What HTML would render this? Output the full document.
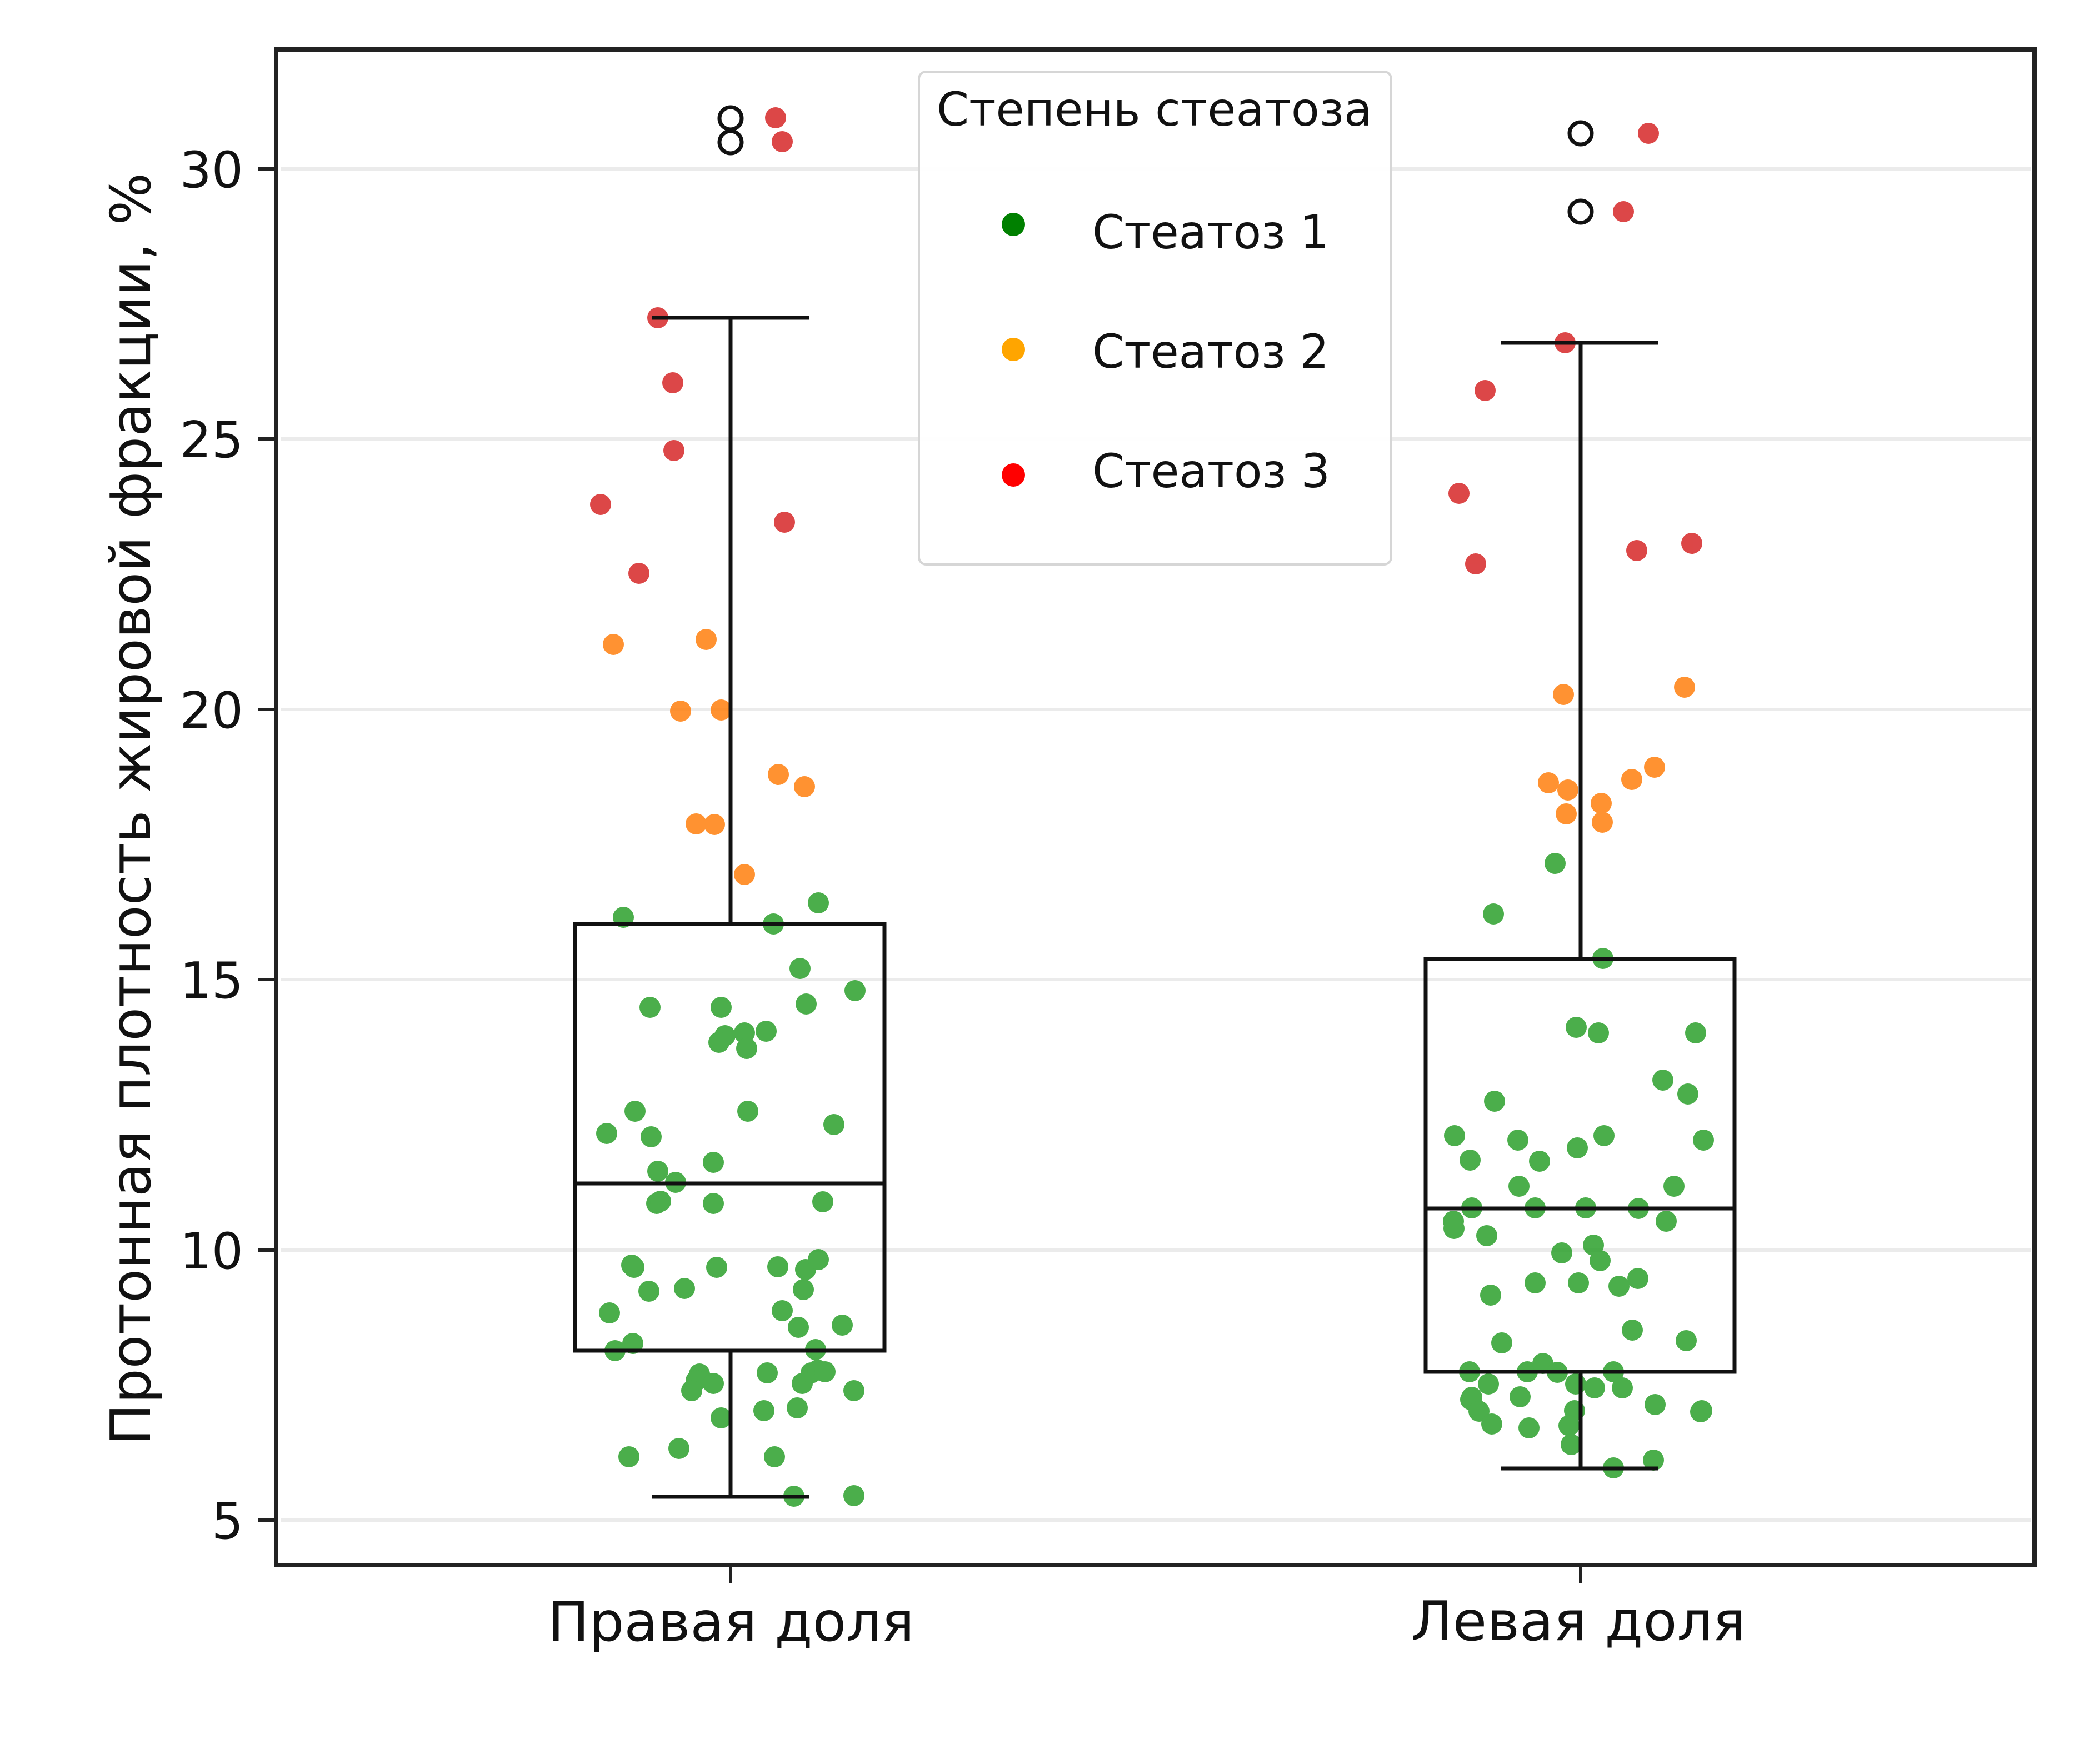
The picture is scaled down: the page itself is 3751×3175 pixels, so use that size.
<!DOCTYPE html>
<html><head><meta charset="utf-8"><style>
html,body{margin:0;padding:0;background:#fff;}
svg{display:block;}
text{font-family:"DejaVu Sans","Liberation Sans",sans-serif;fill:#111;}
</style></head><body>
<svg width="3751" height="3175" viewBox="0 0 3751 3175" xmlns="http://www.w3.org/2000/svg">
<rect width="3751" height="3175" fill="#fff"/>
<!-- gridlines -->
<g stroke="#ebebeb" stroke-width="6">
<line x1="505" y1="304" x2="3655" y2="304"/>
<line x1="505" y1="790" x2="3655" y2="790"/>
<line x1="505" y1="1277" x2="3655" y2="1277"/>
<line x1="505" y1="1763" x2="3655" y2="1763"/>
<line x1="505" y1="2250" x2="3655" y2="2250"/>
<line x1="505" y1="2736" x2="3655" y2="2736"/>
</g>
<!-- points -->
<g opacity="0.85">
<g fill="#d62728">
<circle cx="1396" cy="212" r="19"/><circle cx="1408" cy="255" r="19"/><circle cx="1184" cy="572" r="19"/><circle cx="1211" cy="689" r="19"/><circle cx="1213" cy="811" r="19"/><circle cx="1081" cy="908" r="19"/><circle cx="1412" cy="940" r="19"/><circle cx="1150" cy="1032" r="19"/>
<circle cx="2967" cy="240" r="19"/><circle cx="2922" cy="381" r="19"/><circle cx="2817" cy="617" r="19"/><circle cx="2673" cy="703" r="19"/><circle cx="2626" cy="888" r="19"/><circle cx="2656" cy="1015" r="19"/><circle cx="2946" cy="991" r="19"/><circle cx="3045" cy="978" r="19"/>
</g>
<g fill="#ff7f0e">
<circle cx="1104" cy="1160" r="19"/><circle cx="1271" cy="1151" r="19"/><circle cx="1225" cy="1280" r="19"/><circle cx="1298" cy="1278" r="19"/><circle cx="1401" cy="1394" r="19"/><circle cx="1448" cy="1416" r="19"/><circle cx="1253" cy="1483" r="19"/><circle cx="1286" cy="1484" r="19"/><circle cx="1340" cy="1574" r="19"/>
<circle cx="2814" cy="1250" r="19"/><circle cx="3032" cy="1237" r="19"/><circle cx="2787" cy="1409" r="19"/><circle cx="2822" cy="1422" r="19"/><circle cx="2819" cy="1465" r="19"/><circle cx="2882" cy="1446" r="19"/><circle cx="2884" cy="1480" r="19"/><circle cx="2937" cy="1403" r="19"/><circle cx="2978" cy="1381" r="19"/>
</g>
<g fill="#2ca02c">
<circle cx="1122" cy="1651" r="19"/><circle cx="1392" cy="1663" r="19"/><circle cx="1473" cy="1625" r="19"/><circle cx="1440" cy="1743" r="19"/><circle cx="1539" cy="1783" r="19"/><circle cx="1170" cy="1813" r="19"/><circle cx="1298" cy="1813" r="19"/><circle cx="1451" cy="1807" r="19"/><circle cx="1305" cy="1864" r="19"/><circle cx="1294" cy="1876" r="19"/><circle cx="1340" cy="1859" r="19"/><circle cx="1344" cy="1887" r="19"/><circle cx="1379" cy="1856" r="19"/><circle cx="1143" cy="2000" r="19"/><circle cx="1346" cy="2000" r="19"/><circle cx="1092" cy="2040" r="19"/><circle cx="1172" cy="2046" r="19"/><circle cx="1501" cy="2024" r="19"/><circle cx="1284" cy="2092" r="19"/><circle cx="1184" cy="2108" r="19"/><circle cx="1216" cy="2128" r="19"/><circle cx="1182" cy="2166" r="19"/><circle cx="1189" cy="2162" r="19"/><circle cx="1284" cy="2166" r="19"/><circle cx="1481" cy="2163" r="19"/><circle cx="1141" cy="2281" r="19"/><circle cx="1137" cy="2277" r="19"/><circle cx="1290" cy="2281" r="19"/><circle cx="1400" cy="2280" r="19"/><circle cx="1450" cy="2285" r="19"/><circle cx="1473" cy="2267" r="19"/><circle cx="1168" cy="2324" r="19"/><circle cx="1232" cy="2319" r="19"/><circle cx="1446" cy="2321" r="19"/><circle cx="1097" cy="2363" r="19"/><circle cx="1408" cy="2359" r="19"/><circle cx="1437" cy="2389" r="19"/><circle cx="1516" cy="2385" r="19"/><circle cx="1107" cy="2431" r="19"/><circle cx="1139" cy="2418" r="19"/><circle cx="1468" cy="2429" r="19"/><circle cx="1259" cy="2473" r="19"/><circle cx="1253" cy="2485" r="19"/><circle cx="1245" cy="2503" r="19"/><circle cx="1284" cy="2490" r="19"/><circle cx="1381" cy="2471" r="19"/><circle cx="1444" cy="2490" r="19"/><circle cx="1460" cy="2471" r="19"/><circle cx="1472" cy="2466" r="19"/><circle cx="1485" cy="2469" r="19"/><circle cx="1537" cy="2503" r="19"/><circle cx="1375" cy="2539" r="19"/><circle cx="1435" cy="2534" r="19"/><circle cx="1298" cy="2552" r="19"/><circle cx="1132" cy="2622" r="19"/><circle cx="1222" cy="2607" r="19"/><circle cx="1394" cy="2622" r="19"/><circle cx="1429" cy="2693" r="19"/><circle cx="1537" cy="2692" r="19"/>
<circle cx="2799" cy="1554" r="19"/><circle cx="2688" cy="1645" r="19"/><circle cx="2885" cy="1725" r="19"/><circle cx="2837" cy="1849" r="19"/><circle cx="2877" cy="1859" r="19"/><circle cx="3052" cy="1859" r="19"/><circle cx="2993" cy="1944" r="19"/><circle cx="3038" cy="1969" r="19"/><circle cx="2690" cy="1982" r="19"/><circle cx="2618" cy="2044" r="19"/><circle cx="2732" cy="2052" r="19"/><circle cx="2839" cy="2066" r="19"/><circle cx="2887" cy="2044" r="19"/><circle cx="3066" cy="2052" r="19"/><circle cx="2646" cy="2088" r="19"/><circle cx="2771" cy="2090" r="19"/><circle cx="2734" cy="2135" r="19"/><circle cx="3013" cy="2135" r="19"/><circle cx="2649" cy="2174" r="19"/><circle cx="2763" cy="2174" r="19"/><circle cx="2854" cy="2174" r="19"/><circle cx="2949" cy="2175" r="19"/><circle cx="2616" cy="2198" r="19"/><circle cx="2617" cy="2211" r="19"/><circle cx="2676" cy="2224" r="19"/><circle cx="2999" cy="2198" r="19"/><circle cx="2811" cy="2255" r="19"/><circle cx="2868" cy="2241" r="19"/><circle cx="2880" cy="2269" r="19"/><circle cx="2763" cy="2309" r="19"/><circle cx="2841" cy="2309" r="19"/><circle cx="2914" cy="2315" r="19"/><circle cx="2948" cy="2301" r="19"/><circle cx="2683" cy="2331" r="19"/><circle cx="2938" cy="2394" r="19"/><circle cx="2703" cy="2417" r="19"/><circle cx="3035" cy="2413" r="19"/><circle cx="2645" cy="2469" r="19"/><circle cx="2749" cy="2469" r="19"/><circle cx="2777" cy="2454" r="19"/><circle cx="2803" cy="2470" r="19"/><circle cx="2904" cy="2469" r="19"/><circle cx="2679" cy="2491" r="19"/><circle cx="2649" cy="2515" r="19"/><circle cx="2647" cy="2519" r="19"/><circle cx="2736" cy="2514" r="19"/><circle cx="2836" cy="2491" r="19"/><circle cx="2870" cy="2498" r="19"/><circle cx="2920" cy="2498" r="19"/><circle cx="2662" cy="2540" r="19"/><circle cx="2685" cy="2563" r="19"/><circle cx="2752" cy="2570" r="19"/><circle cx="2979" cy="2528" r="19"/><circle cx="3063" cy="2539" r="19"/><circle cx="3061" cy="2541" r="19"/><circle cx="2834" cy="2539" r="19"/><circle cx="2824" cy="2566" r="19"/><circle cx="2828" cy="2600" r="19"/><circle cx="2904" cy="2642" r="19"/><circle cx="2976" cy="2628" r="19"/>
</g>
</g>
<!-- boxplots -->
<g stroke="#111" stroke-width="7" fill="none">
<rect x="1035" y="1663" width="557" height="768"/>
<line x1="1035" y1="2130" x2="1592" y2="2130"/>
<line x1="1315" y1="572" x2="1315" y2="1663"/>
<line x1="1315" y1="2431" x2="1315" y2="2694"/>
<line x1="1173" y1="572" x2="1456" y2="572"/>
<line x1="1173" y1="2694" x2="1456" y2="2694"/>
<rect x="2566" y="1726" width="556" height="743"/>
<line x1="2566" y1="2175" x2="3122" y2="2175"/>
<line x1="2845" y1="617" x2="2845" y2="1726"/>
<line x1="2845" y1="2469" x2="2845" y2="2643"/>
<line x1="2702" y1="617" x2="2985" y2="617"/>
<line x1="2702" y1="2643" x2="2985" y2="2643"/>
<circle cx="1315" cy="213" r="20"/>
<circle cx="1315" cy="256" r="20"/>
<circle cx="2845" cy="240" r="20"/>
<circle cx="2845" cy="381" r="20"/>
</g>
<!-- axes frame -->
<rect x="497" y="89" width="3165" height="2728" fill="none" stroke="#222" stroke-width="8"/>
<!-- ticks -->
<g stroke="#222" stroke-width="6">
<line x1="465" y1="304" x2="497" y2="304"/>
<line x1="465" y1="790" x2="497" y2="790"/>
<line x1="465" y1="1277" x2="497" y2="1277"/>
<line x1="465" y1="1763" x2="497" y2="1763"/>
<line x1="465" y1="2250" x2="497" y2="2250"/>
<line x1="465" y1="2736" x2="497" y2="2736"/>
<line x1="1315" y1="2817" x2="1315" y2="2849"/>
<line x1="2845" y1="2817" x2="2845" y2="2849"/>
</g>
<g font-size="90" text-anchor="end">
<text x="438" y="337">30</text>
<text x="438" y="823">25</text>
<text x="438" y="1310">20</text>
<text x="438" y="1796">15</text>
<text x="438" y="2283">10</text>
<text x="438" y="2769">5</text>
</g>
<g font-size="98" text-anchor="middle">
<text x="1316" y="2953" textLength="660" lengthAdjust="spacingAndGlyphs">Правая доля</text>
<text x="2841" y="2952" textLength="603" lengthAdjust="spacingAndGlyphs">Левая доля</text>
</g>
<text transform="translate(270,1456) rotate(-90)" font-size="100" text-anchor="middle" textLength="2290" lengthAdjust="spacingAndGlyphs">Протонная плотность жировой фракции, %</text>
<!-- legend -->
<rect x="1654" y="129" width="850" height="887" rx="13" ry="13" fill="#fff" fill-opacity="0.92" stroke="#d6d6d6" stroke-width="4"/>
<text x="1686" y="226" font-size="84" textLength="784" lengthAdjust="spacingAndGlyphs">Степень стеатоза</text>
<circle cx="1824" cy="404" r="21" fill="#008000"/>
<circle cx="1824" cy="629" r="21" fill="#ffa500"/>
<circle cx="1824" cy="855" r="21" fill="#ff0000"/>
<g font-size="84">
<text x="1966" y="447" textLength="426" lengthAdjust="spacingAndGlyphs">Стеатоз 1</text>
<text x="1966" y="662" textLength="426" lengthAdjust="spacingAndGlyphs">Стеатоз 2</text>
<text x="1966" y="877" textLength="428" lengthAdjust="spacingAndGlyphs">Стеатоз 3</text>
</g>
</svg>
</body></html>
